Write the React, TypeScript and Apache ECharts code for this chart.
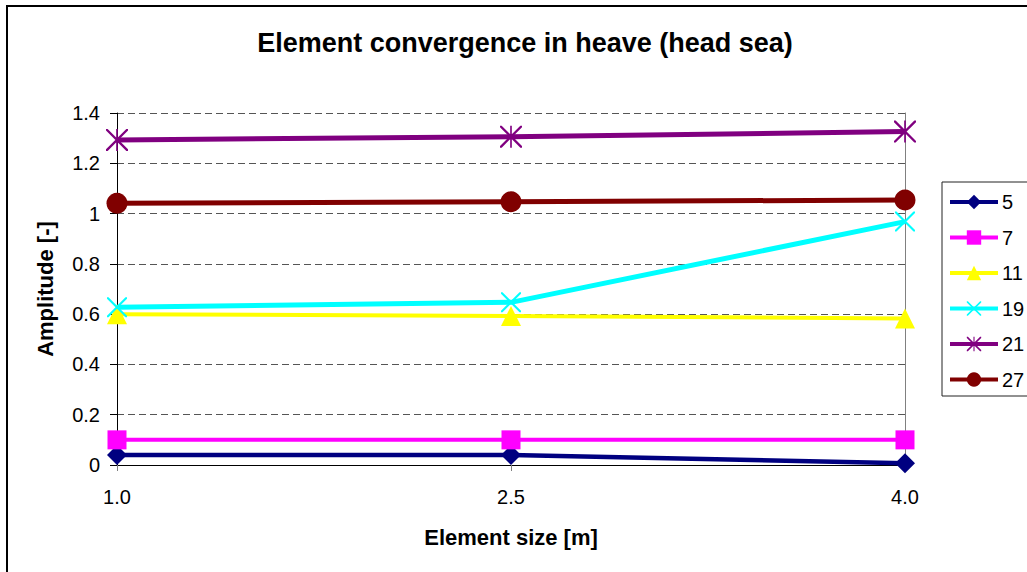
import React, { useEffect, useRef } from "react";
import * as echarts from "echarts";

const sizes = ["1.0", "2.5", "4.0"];
const seriesNames = ["5", "7", "11", "19", "21", "27"];
const s5 = [0.04, 0.04, 0.007];
const s7 = [0.1, 0.1, 0.1];
const s11 = [0.6, 0.593, 0.583];
const s19 = [0.627, 0.647, 0.968];
const s21 = [1.293, 1.306, 1.326];
const s27 = [1.041, 1.047, 1.054];
const yTicks = { min: 0, max: 1.4, interval: 0.2 };

const CROSS =
  "path://M0,0 L1.5,0 L20,18.5 L20,20 L18.5,20 L0,1.5 Z M20,0 L20,1.5 L1.5,20 L0,20 L0,18.5 L18.5,0 Z";
const STAR =
  "path://M0,0 L1.5,0 L20,18.5 L20,20 L18.5,20 L0,1.5 Z M20,0 L20,1.5 L1.5,20 L0,20 L0,18.5 L18.5,0 Z M9.25,0 L10.75,0 L10.75,20 L9.25,20 Z";

const FONT = "'Liberation Sans', Arial, sans-serif";

export default function App() {
  const ref = useRef<HTMLDivElement>(null);
  useEffect(() => {
    document.body.style.margin = "0";
    document.body.style.overflow = "hidden";
    const chart = echarts.init(ref.current!, null, { renderer: "svg" });
    const values = [s5, s7, s11, s19, s21, s27];
    const colors = ["#000080", "#FF00FF", "#FFFF00", "#00FFFF", "#800080", "#800000"];
    const symbols = ["diamond", "rect", "triangle", CROSS, STAR, "circle"];
    const symSizes = [20, 19, 20, 20, 22, 21];
    const widths = [4.5, 4, 4, 5, 5, 5];
    chart.setOption({
      animation: false,
      backgroundColor: "#ffffff",
      textStyle: { fontFamily: FONT },
      title: {
        text: "Element convergence in heave (head sea)",
        left: 525,
        top: 29,
        padding: 0,
        textAlign: "center",
        textStyle: { fontFamily: FONT, fontSize: 27, fontWeight: "bold", color: "#000" },
      },
      legend: {
        orient: "vertical",
        left: 948,
        top: 192,
        padding: 0,
        itemWidth: 48,
        itemHeight: 18,
        itemGap: 15.5,
        data: seriesNames,
        lineStyle: { width: 4 },
        textStyle: { fontFamily: FONT, fontSize: 20, color: "#000", lineHeight: 20, padding: [0, 0, 0, -1] },
      },
      graphic: [
        {
          type: "rect",
          shape: { x: 7, y: 6, width: 1040, height: 590 },
          style: { fill: "none", stroke: "#000", lineWidth: 2 },
          silent: true,
        },
        {
          type: "rect",
          shape: { x: 942, y: 182, width: 120, height: 214 },
          style: { fill: "none", stroke: "#222", lineWidth: 1 },
          silent: true,
        },
      ],
      grid: { left: 117, top: 113, right: 122, bottom: 107 },
      xAxis: {
        type: "category",
        data: sizes,
        boundaryGap: false,
        name: "Element size [m]",
        nameLocation: "middle",
        nameGap: 61,
        nameTextStyle: { fontFamily: FONT, fontSize: 22, fontWeight: "bold", color: "#000" },
        axisLine: { lineStyle: { color: "#000", width: 1 } },
        axisTick: { show: true, length: 6, lineStyle: { color: "#808080" } },
        axisLabel: { fontFamily: FONT, fontSize: 20, color: "#000", margin: 22 },
        splitLine: { show: false },
      },
      yAxis: [
        {
          type: "value",
          min: yTicks.min,
          max: yTicks.max,
          interval: yTicks.interval,
          name: "Amplitude [-]",
          nameLocation: "middle",
          nameGap: 61,
          nameRotate: 90,
          nameTextStyle: { fontFamily: FONT, fontSize: 22, fontWeight: "bold", color: "#000" },
          axisLine: { show: true, lineStyle: { color: "#000", width: 1 } },
          axisTick: { show: true, length: 7, lineStyle: { color: "#000" } },
          axisLabel: { fontFamily: FONT, fontSize: 20, color: "#000", margin: 17 },
          splitLine: { show: true, lineStyle: { color: "#555", type: [7, 4], width: 1 } },
        },
        {
          type: "value",
          position: "right",
          min: yTicks.min,
          max: yTicks.max,
          interval: yTicks.interval,
          axisLine: { show: true, lineStyle: { color: "#808080", width: 1 } },
          axisTick: { show: false },
          axisLabel: { show: false },
          splitLine: { show: false },
        },
      ],
      series: seriesNames.map((name, i) => ({
        name,
        type: "line",
        data: values[i],
        symbol: symbols[i],
        symbolSize: symSizes[i],
        showAllSymbol: true,
        lineStyle: { color: colors[i], width: widths[i] },
        itemStyle: { color: colors[i], borderWidth: 0 },
        emphasis: { disabled: true },
      })),
    });
    return () => chart.dispose();
  }, []);
  return (
    <div
      ref={ref}
      style={{ position: "absolute", left: 0, top: 0, width: 1027, height: 572 }}
    />
  );
}
